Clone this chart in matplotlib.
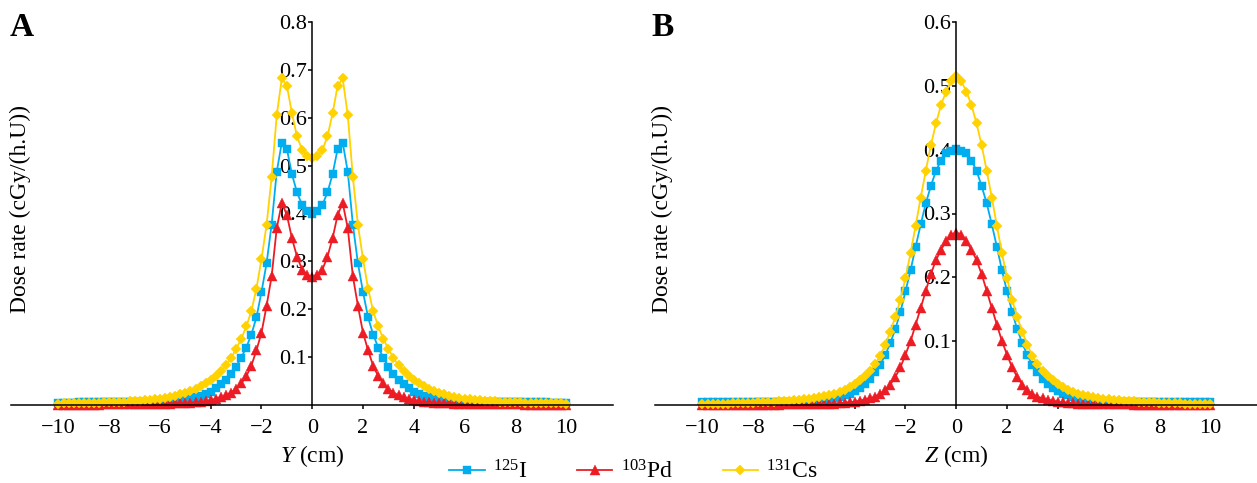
import matplotlib.pyplot as plt
import numpy as np

"""
Dose rate profiles of 125I, 103Pd and 131Cs seeds along Y and Z
"""

plt.rcParams['font.family'] = ['Liberation Serif', 'DejaVu Serif']
plt.rcParams['mathtext.fontset'] = 'custom'
plt.rcParams['mathtext.rm'] = 'Liberation Serif'
plt.rcParams['mathtext.it'] = 'Liberation Serif:italic'

# positions in cm, -10 ... 10 every 0.2 cm
positions = np.linspace(-10, 10, 101)

# panel A: profile along Y
iodine_y = [
    0.0051, 0.0051, 0.0052, 0.0052, 0.0053, 0.0053, 0.0054, 0.0054, 0.0055, 0.0055,
    0.0056, 0.0057, 0.0058, 0.0060, 0.0060, 0.0060, 0.0065, 0.0065, 0.0070, 0.0070,
    0.0075, 0.0080, 0.0090, 0.0100, 0.0110, 0.0120, 0.0140, 0.0160, 0.0190, 0.0230,
    0.028, 0.035, 0.043, 0.053, 0.065, 0.080, 0.099, 0.120, 0.147, 0.183,
    0.236, 0.296, 0.377, 0.487, 0.548, 0.535, 0.482, 0.444, 0.418, 0.405,
    0.400,
    0.405, 0.418, 0.444, 0.482, 0.535, 0.548, 0.487, 0.377, 0.296, 0.236,
    0.183, 0.147, 0.120, 0.099, 0.080, 0.065, 0.053, 0.043, 0.035, 0.028,
    0.0230, 0.0190, 0.0160, 0.0140, 0.0120, 0.0110, 0.0100, 0.0090, 0.0080, 0.0075,
    0.0070, 0.0070, 0.0065, 0.0065, 0.0060, 0.0060, 0.0060, 0.0058, 0.0057, 0.0056,
    0.0055, 0.0055, 0.0054, 0.0054, 0.0053, 0.0053, 0.0052, 0.0052, 0.0051, 0.0051,
]
palladium_y = [
    0.0007, 0.0007, 0.0008, 0.0008, 0.0008, 0.0009, 0.0009, 0.0010, 0.0010, 0.0011,
    0.0011, 0.0012, 0.0013, 0.0014, 0.0015, 0.0016, 0.0017, 0.0018, 0.0020, 0.0022,
    0.0024, 0.0027, 0.0030, 0.0035, 0.0040, 0.0045, 0.0052, 0.0060, 0.0072, 0.0085,
    0.010, 0.013, 0.016, 0.020, 0.026, 0.034, 0.045, 0.060, 0.082, 0.114,
    0.151, 0.207, 0.269, 0.369, 0.422, 0.397, 0.348, 0.310, 0.283, 0.271,
    0.268,
    0.271, 0.283, 0.310, 0.348, 0.397, 0.422, 0.369, 0.269, 0.207, 0.151,
    0.114, 0.082, 0.060, 0.045, 0.034, 0.026, 0.020, 0.016, 0.013, 0.010,
    0.0085, 0.0072, 0.0060, 0.0052, 0.0045, 0.0040, 0.0035, 0.0030, 0.0027, 0.0024,
    0.0022, 0.0020, 0.0018, 0.0017, 0.0016, 0.0015, 0.0014, 0.0013, 0.0012, 0.0011,
    0.0011, 0.0010, 0.0010, 0.0009, 0.0009, 0.0008, 0.0008, 0.0008, 0.0007, 0.0007,
]
cesium_y = [
    0.0031, 0.0033, 0.0035, 0.0037, 0.0039, 0.0041, 0.0044, 0.0047, 0.0050, 0.0053,
    0.0057, 0.0061, 0.0066, 0.0072, 0.0078, 0.0085, 0.0090, 0.0100, 0.0110, 0.0120,
    0.013, 0.015, 0.017, 0.019, 0.022, 0.025, 0.029, 0.034, 0.039, 0.045,
    0.052, 0.060, 0.070, 0.083, 0.098, 0.117, 0.138, 0.164, 0.196, 0.243,
    0.305, 0.376, 0.476, 0.605, 0.682, 0.667, 0.609, 0.561, 0.533, 0.520,
    0.515,
    0.520, 0.533, 0.561, 0.609, 0.667, 0.682, 0.605, 0.476, 0.376, 0.305,
    0.243, 0.196, 0.164, 0.138, 0.117, 0.098, 0.083, 0.070, 0.060, 0.052,
    0.045, 0.039, 0.034, 0.029, 0.025, 0.022, 0.019, 0.017, 0.015, 0.013,
    0.0120, 0.0110, 0.0100, 0.0090, 0.0085, 0.0078, 0.0072, 0.0066, 0.0061, 0.0057,
    0.0053, 0.0050, 0.0047, 0.0044, 0.0041, 0.0039, 0.0037, 0.0035, 0.0033, 0.0031,
]

# panel B: profile along Z
iodine_z = [
    0.0045, 0.0045, 0.0045, 0.0045, 0.0046, 0.0046, 0.0046, 0.0046, 0.0047, 0.0047,
    0.0047, 0.0048, 0.0048, 0.0048, 0.0049, 0.0049, 0.0050, 0.0050, 0.0051, 0.0052,
    0.0054, 0.0058, 0.0063, 0.0070, 0.0080, 0.0090, 0.0105, 0.0125, 0.015, 0.018,
    0.022, 0.027, 0.033, 0.041, 0.051, 0.063, 0.078, 0.097, 0.119, 0.146,
    0.178, 0.211, 0.248, 0.283, 0.316, 0.343, 0.367, 0.383, 0.394, 0.398,
    0.401,
    0.398, 0.394, 0.383, 0.367, 0.343, 0.316, 0.283, 0.248, 0.211, 0.178,
    0.146, 0.119, 0.097, 0.078, 0.063, 0.051, 0.041, 0.033, 0.027, 0.022,
    0.018, 0.015, 0.0125, 0.0105, 0.0090, 0.0080, 0.0070, 0.0063, 0.0058, 0.0054,
    0.0052, 0.0051, 0.0050, 0.0050, 0.0049, 0.0049, 0.0048, 0.0048, 0.0048, 0.0047,
    0.0047, 0.0047, 0.0046, 0.0046, 0.0046, 0.0046, 0.0045, 0.0045, 0.0045, 0.0045,
]
palladium_z = [
    0.0004, 0.0004, 0.0004, 0.0004, 0.0005, 0.0005, 0.0005, 0.0005, 0.0005, 0.0006,
    0.0006, 0.0006, 0.0006, 0.0007, 0.0007, 0.0007, 0.0008, 0.0008, 0.0009, 0.0009,
    0.0010, 0.0011, 0.0012, 0.0014, 0.0016, 0.0019, 0.0023, 0.0028, 0.0034, 0.0042,
    0.0052, 0.0068, 0.0085, 0.0105, 0.013, 0.017, 0.023, 0.032, 0.044, 0.059,
    0.079, 0.100, 0.126, 0.152, 0.179, 0.205, 0.227, 0.243, 0.257, 0.267,
    0.270,
    0.267, 0.257, 0.243, 0.227, 0.205, 0.179, 0.152, 0.126, 0.100, 0.079,
    0.059, 0.044, 0.032, 0.023, 0.017, 0.013, 0.0105, 0.0085, 0.0068, 0.0052,
    0.0042, 0.0034, 0.0028, 0.0023, 0.0019, 0.0016, 0.0014, 0.0012, 0.0011, 0.0010,
    0.0009, 0.0009, 0.0008, 0.0008, 0.0007, 0.0007, 0.0007, 0.0006, 0.0006, 0.0006,
    0.0006, 0.0005, 0.0005, 0.0005, 0.0005, 0.0005, 0.0004, 0.0004, 0.0004, 0.0004,
]
cesium_z = [
    0.0014, 0.0015, 0.0016, 0.0018, 0.0020, 0.0022, 0.0024, 0.0027, 0.0030, 0.0033,
    0.0036, 0.0040, 0.0044, 0.0048, 0.0053, 0.0058, 0.0064, 0.0070, 0.0076, 0.0083,
    0.009, 0.010, 0.011, 0.0125, 0.014, 0.016, 0.018, 0.021, 0.024, 0.028,
    0.033, 0.039, 0.046, 0.054, 0.064, 0.077, 0.094, 0.115, 0.138, 0.165,
    0.199, 0.238, 0.281, 0.325, 0.367, 0.407, 0.441, 0.470, 0.491, 0.507,
    0.515,
    0.507, 0.491, 0.470, 0.441, 0.407, 0.367, 0.325, 0.281, 0.238, 0.199,
    0.165, 0.138, 0.115, 0.094, 0.077, 0.064, 0.054, 0.046, 0.039, 0.033,
    0.028, 0.024, 0.021, 0.018, 0.016, 0.014, 0.0125, 0.011, 0.010, 0.009,
    0.0083, 0.0076, 0.0070, 0.0064, 0.0058, 0.0053, 0.0048, 0.0044, 0.0040, 0.0036,
    0.0033, 0.0030, 0.0027, 0.0024, 0.0022, 0.0020, 0.0018, 0.0016, 0.0015, 0.0014,
]

source_labels = [r'$^{125}$I', r'$^{103}$Pd', r'$^{131}$Cs']
colors = ['#00AEEF', '#ED1C24', '#FFD200']
markers = ['s', '^', 'D']
marker_sizes = [5.5, 6.5, 5.5]

W, H = 1257, 483
FS = 16


def draw_panel(ax, series, ymax, xlabel):
    handles = []
    for values, color, marker, ms, label in zip(series, colors, markers, marker_sizes, source_labels):
        h, = ax.plot(positions, values, color=color, marker=marker, markersize=ms,
                     linewidth=1.3, markeredgewidth=0.3, clip_on=False, label=label)
        handles.append(h)

    ax.set_xlim(-11.87, 11.85)
    ax.set_ylim(0, ymax)

    # axes cross at the origin
    ax.spines['top'].set_visible(False)
    ax.spines['right'].set_visible(False)
    ax.spines['left'].set_position(('data', 0))
    ax.spines['left'].set_bounds(0, ymax)
    ax.spines['left'].set_linewidth(1.1)
    ax.spines['bottom'].set_linewidth(1.1)

    ax.set_xticks(range(-10, 11, 2))
    yticks = np.arange(1, int(round(ymax * 10)) + 1) / 10
    ax.set_yticks(yticks)
    ax.set_yticklabels(['%.1f' % v for v in yticks])
    ax.tick_params(axis='x', direction='out', length=3, width=1.1, pad=7, labelsize=FS)
    ax.tick_params(axis='y', direction='out', length=3, width=1.1, pad=1, labelsize=FS)

    ax.set_xlabel(xlabel, fontsize=FS + 1)
    ax.xaxis.set_label_coords(11.87 / (11.87 + 11.85), -0.099)
    return handles


fig = plt.figure(figsize=(W / 100, H / 100), dpi=100)
ax_a = fig.add_axes([11 / W, 1 - 405 / H, 602 / W, 383 / H])
ax_b = fig.add_axes([655 / W, 1 - 405 / H, 602 / W, 383 / H])

handles = draw_panel(ax_a, [iodine_y, palladium_y, cesium_y], 0.8, r'$\mathit{Y}$ (cm)')
draw_panel(ax_b, [iodine_z, palladium_z, cesium_z], 0.6, r'$\mathit{Z}$ (cm)')

for x_px, letter in [(22, 'A'), (663, 'B')]:
    fig.text(x_px / W, 1 - 28 / H, letter, fontsize=24, fontweight='bold',
             ha='center', va='center')
for x_px in [20, 662]:
    fig.text(x_px / W, 1 - 209 / H, 'Dose rate (cGy/(h.U))', fontsize=FS + 1,
             rotation=90, ha='center', va='center')

fig.legend(handles, source_labels, loc='center', bbox_to_anchor=(0.504, 1 - 472 / H),
           ncol=3, frameon=False, fontsize=FS + 1, handlelength=1.5,
           handletextpad=0.35, columnspacing=2.1, borderpad=0, borderaxespad=0)

fig.savefig('out.png', dpi=100)
